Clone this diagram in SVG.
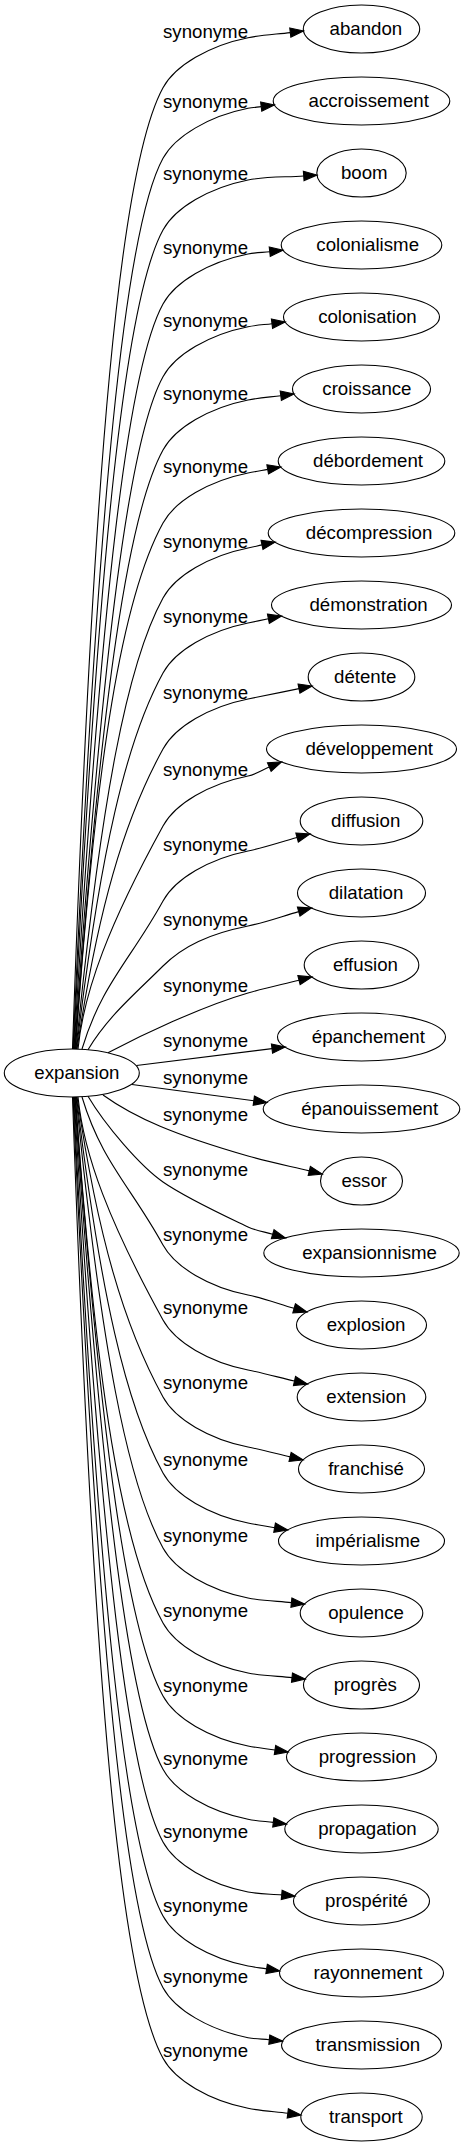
<svg xmlns="http://www.w3.org/2000/svg" width="465" height="2147" viewBox="0 0 465 2147">
<defs>
<style>
.n ellipse{fill:none;stroke:#000;stroke-width:1.1}
.e path{fill:none;stroke:#000;stroke-width:1.1;marker-end:url(#ah)}
text{font-family:"Liberation Sans",Arial,sans-serif;font-size:18.67px;text-anchor:middle;fill:#000}
</style>
<marker id="ah" markerUnits="userSpaceOnUse" markerWidth="16" markerHeight="12" viewBox="-1 -6 16 12" refX="0" refY="0" orient="auto" overflow="visible">
<path d="M0,-4.67L13.33,0L0,4.67z" fill="#000" stroke="#000" stroke-width="1.1"/>
</marker>
</defs>
<rect width="465" height="2147" fill="#fff"/>
<g id="edges" class="e">
<g id="e-abandon"><path d="M72.5,1049 C93.3,453.4 120.5,165.1 163,87.7 C175.2,65.4 209.2,45.5 248,37.7 C261.9,34.9 276.2,34.3 290.3,32.6"/><text x="205.5" y="37.7">synonyme</text></g>
<g id="e-accroissement"><path d="M73,1049 C97.9,494.7 125,227.5 163,158.3 C175.2,136 209.2,116.1 248,108.3 C252.3,107.4 256.8,107.2 261.2,106.65"/><text x="205.5" y="108.3">synonyme</text></g>
<g id="e-boom"><path d="M73.5,1049 C98.8,543.7 125.6,298 163,230 C175.2,207.7 209.2,187.8 248,180 C266.25,176.35 285.15,177.3 303.7,175.96"/><text x="205.5" y="180">synonyme</text></g>
<g id="e-colonialisme"><path d="M74,1049 C101.5,590.8 128.2,367.3 163,304 C175.2,281.7 209.2,261.8 248,254 C255.2,252.6 262.5,252.5 269.75,251.7"/><text x="205.5" y="254">synonyme</text></g>
<g id="e-colonisation"><path d="M74.5,1049 C103.2,638.8 129.8,437.1 163,376.7 C175.2,354.4 209.2,334.5 248,326.7 C255.9,325.1 264,324.7 272,323.7"/><text x="205.5" y="326.7">synonyme</text></g>
<g id="e-croissance"><path d="M75,1049 C101.7,693.2 128.1,513.5 163,450 C175.2,427.7 209.2,407.8 248,400 C258.8,397.8 269.9,397.1 280.8,395.7"/><text x="205.5" y="400">synonyme</text></g>
<g id="e-debordement"><path d="M75.5,1049 C96.1,754.7 122.3,596.9 163,523 C175.2,500.7 209.2,480.8 248,473 C254.6,471.7 261.1,470.6 267.7,469.4"/><text x="205.5" y="473">synonyme</text></g>
<g id="e-decompression"><path d="M76,1049 C101.1,798.5 127.2,663.2 163,598 C175.2,575.7 209.2,555.8 248,548 C252.7,547.1 257.3,545.9 262,544.9"/><text x="205.5" y="548">synonyme</text></g>
<g id="e-demonstration"><path d="M76.5,1049 C100,853.2 125.9,740.4 163,673 C175.2,650.7 209.2,630.8 248,623 C254.8,621.6 261.6,620.1 268.4,618.7"/><text x="205.5" y="623">synonyme</text></g>
<g id="e-detente"><path d="M77,1049 C97.7,910.75 123.5,820.75 163,749 C175.2,726.7 209.2,706.8 248,699 C265,695.6 282,692.1 299,688.65"/><text x="205.5" y="699">synonyme</text></g>
<g id="e-developpement"><path d="M78,1049 C83.9,990.4 109.4,923.5 163,826 C175.2,803.7 209.2,783.8 248,776 C255.6,774.5 262.2,770.1 269.3,767.1"/><text x="205.5" y="776">synonyme</text></g>
<g id="e-diffusion"><path d="M82,1049 C101.4,984.4 130.5,960.1 163,901 C175.2,878.7 209.2,858.8 248,851 C264.7,847.7 280.7,842 297.1,837.5"/><text x="205.5" y="851">synonyme</text></g>
<g id="e-dilatation"><path d="M88,1049.7 C108.2,1016 135.2,993.8 163,966 C183,946 209.2,933.8 248,926 C265.3,922.5 281.8,916.4 298.7,911.6"/><text x="205.5" y="926">synonyme</text></g>
<g id="e-effusion"><path d="M108,1052.7 C140,1036 200,1007 248,993 C264.8,988.1 282,984.5 299,980.2"/><text x="205.5" y="992">synonyme</text></g>
<g id="e-epanchement"><path d="M136.5,1065.5 L272,1048.65"/><text x="205.5" y="1047">synonyme</text></g>
<g id="e-epanouissement"><path d="M132,1084.5 L253.8,1100.7"/><text x="205.5" y="1084">synonyme</text></g>
<g id="e-essor"><path d="M103,1095 C135,1118 175,1135 248,1156 C268.2,1161.8 288.9,1166 309.3,1170.9"/><text x="205.5" y="1121">synonyme</text></g>
<g id="e-expansionnisme"><path d="M88,1096.3 C105,1125 140,1166 163,1182 C186,1198 223,1215 248,1227 C256,1230.8 265,1231.9 272.7,1234.2"/><text x="205.5" y="1176">synonyme</text></g>
<g id="e-explosion"><path d="M82,1097 C101.4,1161.6 130.5,1185.9 163,1245 C175.2,1267.3 209.2,1287.2 248,1295 C263.7,1298.1 278.7,1303.9 294.1,1308.3"/><text x="205.5" y="1241">synonyme</text></g>
<g id="e-extension"><path d="M78,1097 C83.9,1155.6 109.4,1222.5 163,1320 C175.2,1342.3 209.2,1362.2 248,1370 C263.6,1373.1 279,1377.4 294.5,1381"/><text x="205.5" y="1314">synonyme</text></g>
<g id="e-franchise"><path d="M77,1097 C97.7,1235.25 123.5,1325.25 163,1397 C175.2,1419.3 209.2,1439.2 248,1447 C262.1,1449.8 276.1,1453.6 290.1,1456.9"/><text x="205.5" y="1389">synonyme</text></g>
<g id="e-imperialisme"><path d="M76.5,1097 C100,1292.8 125.9,1405.6 163,1473 C175.2,1495.3 209.2,1515.2 248,1523 C256.8,1524.8 265.7,1526.1 274.6,1527.7"/><text x="205.5" y="1466">synonyme</text></g>
<g id="e-opulence"><path d="M76,1097 C101.1,1347.5 127.2,1482.8 163,1548 C175.2,1570.3 209.2,1590.2 248,1598 C262.2,1600.8 277,1601.1 291.4,1602.6"/><text x="205.5" y="1542">synonyme</text></g>
<g id="e-progres"><path d="M75.5,1097 C96.1,1391.3 122.3,1549.1 163,1623 C175.2,1645.3 209.2,1665.2 248,1673 C262.4,1675.9 277.4,1676.1 292,1677.6"/><text x="205.5" y="1617">synonyme</text></g>
<g id="e-progression"><path d="M75,1097 C101.7,1452.8 128.1,1632.5 163,1696 C175.2,1718.3 209.2,1738.2 248,1746 C256.9,1747.8 266,1748.65 275,1750"/><text x="205.5" y="1692">synonyme</text></g>
<g id="e-propagation"><path d="M74.5,1097 C103.2,1507.2 129.8,1708.9 163,1769.3 C175.2,1791.6 209.2,1811.5 248,1819.3 C256.3,1821 264.9,1821.4 273.3,1822.4"/><text x="205.5" y="1765">synonyme</text></g>
<g id="e-prosperite"><path d="M74,1097 C101.5,1555.2 128.2,1778.7 163,1842 C175.2,1864.3 209.2,1884.2 248,1892 C259.1,1894.2 270.45,1893.9 281.7,1894.9"/><text x="205.5" y="1838">synonyme</text></g>
<g id="e-rayonnement"><path d="M73.5,1097 C98.8,1602.3 125.6,1848 163,1916 C175.2,1938.3 209.2,1958.2 248,1966 C254.2,1967.2 260.4,1967.9 266.6,1968.9"/><text x="205.5" y="1912">synonyme</text></g>
<g id="e-transmission"><path d="M73,1097 C97.9,1651.3 125,1918.5 163,1987.7 C175.2,2010 209.2,2029.9 248,2037.7 C255,2039.1 262.2,2039 269.3,2039.7"/><text x="205.5" y="1983">synonyme</text></g>
<g id="e-transport"><path d="M72.5,1097 C93.3,1692.6 120.5,1980.9 163,2058.3 C175.2,2080.6 209.2,2100.5 248,2108.3 C261.1,2110.9 274.5,2111.6 287.8,2113.3"/><text x="205.5" y="2057">synonyme</text></g>
</g>
<g id="nodes" class="n">
<g id="n-expansion"><ellipse cx="71.8" cy="1073" rx="67.5" ry="24"/><text x="76.9" y="1079">expansion</text></g>
<g id="n-abandon"><ellipse cx="361.5" cy="29" rx="58.2" ry="24"/><text x="365.9" y="35">abandon</text></g>
<g id="n-accroissement"><ellipse cx="361.5" cy="101" rx="88.3" ry="24"/><text x="368.7" y="107">accroissement</text></g>
<g id="n-boom"><ellipse cx="361.5" cy="173" rx="44.7" ry="24"/><text x="364.3" y="179">boom</text></g>
<g id="n-colonialisme"><ellipse cx="361.5" cy="245" rx="80.3" ry="24"/><text x="367.7" y="251">colonialisme</text></g>
<g id="n-colonisation"><ellipse cx="361.5" cy="317" rx="78" ry="24"/><text x="367.4" y="323">colonisation</text></g>
<g id="n-croissance"><ellipse cx="361.5" cy="389" rx="69" ry="24"/><text x="366.9" y="395">croissance</text></g>
<g id="n-debordement"><ellipse cx="361.5" cy="461" rx="83.3" ry="24"/><text x="368.1" y="467">débordement</text></g>
<g id="n-decompression"><ellipse cx="361.5" cy="533" rx="93.3" ry="24"/><text x="369.1" y="539">décompression</text></g>
<g id="n-demonstration"><ellipse cx="361.5" cy="605" rx="90" ry="24"/><text x="368.6" y="611">démonstration</text></g>
<g id="n-detente"><ellipse cx="361.5" cy="677" rx="53.3" ry="24"/><text x="365.2" y="683">détente</text></g>
<g id="n-developpement"><ellipse cx="361.5" cy="749" rx="95" ry="24"/><text x="369.2" y="755">développement</text></g>
<g id="n-diffusion"><ellipse cx="361.5" cy="821" rx="61.3" ry="24"/><text x="365.7" y="827">diffusion</text></g>
<g id="n-dilatation"><ellipse cx="361.5" cy="893" rx="64" ry="24"/><text x="366" y="899">dilatation</text></g>
<g id="n-effusion"><ellipse cx="361.5" cy="965" rx="57.3" ry="24"/><text x="365.4" y="971">effusion</text></g>
<g id="n-epanchement"><ellipse cx="361.5" cy="1037" rx="84" ry="24"/><text x="368.3" y="1043">épanchement</text></g>
<g id="n-epanouissement"><ellipse cx="361.5" cy="1109" rx="98.3" ry="24"/><text x="369.7" y="1115">épanouissement</text></g>
<g id="n-essor"><ellipse cx="361.5" cy="1181" rx="41" ry="24"/><text x="364.2" y="1187">essor</text></g>
<g id="n-expansionnisme"><ellipse cx="361.5" cy="1253" rx="97.7" ry="24"/><text x="369.6" y="1259">expansionnisme</text></g>
<g id="n-explosion"><ellipse cx="361.5" cy="1325" rx="65" ry="24"/><text x="366.1" y="1331">explosion</text></g>
<g id="n-extension"><ellipse cx="361.5" cy="1397" rx="64.3" ry="24"/><text x="366.3" y="1403">extension</text></g>
<g id="n-franchise"><ellipse cx="361.5" cy="1469" rx="63" ry="24"/><text x="366" y="1475">franchisé</text></g>
<g id="n-imperialisme"><ellipse cx="361.5" cy="1541" rx="83" ry="24"/><text x="367.8" y="1547">impérialisme</text></g>
<g id="n-opulence"><ellipse cx="361.5" cy="1613" rx="61.3" ry="24"/><text x="366" y="1619">opulence</text></g>
<g id="n-progres"><ellipse cx="361.5" cy="1685" rx="58" ry="24"/><text x="365.3" y="1691">progrès</text></g>
<g id="n-progression"><ellipse cx="361.5" cy="1757" rx="75" ry="24"/><text x="367.4" y="1763">progression</text></g>
<g id="n-propagation"><ellipse cx="361.5" cy="1829" rx="76.7" ry="24"/><text x="367.4" y="1835">propagation</text></g>
<g id="n-prosperite"><ellipse cx="361.5" cy="1901" rx="68" ry="24"/><text x="366.5" y="1907">prospérité</text></g>
<g id="n-rayonnement"><ellipse cx="361.5" cy="1973" rx="82" ry="24"/><text x="368" y="1979">rayonnement</text></g>
<g id="n-transmission"><ellipse cx="361.5" cy="2045" rx="80" ry="24"/><text x="367.8" y="2051">transmission</text></g>
<g id="n-transport"><ellipse cx="361.5" cy="2117" rx="60.7" ry="24"/><text x="365.9" y="2123">transport</text></g>
</g>
</svg>
